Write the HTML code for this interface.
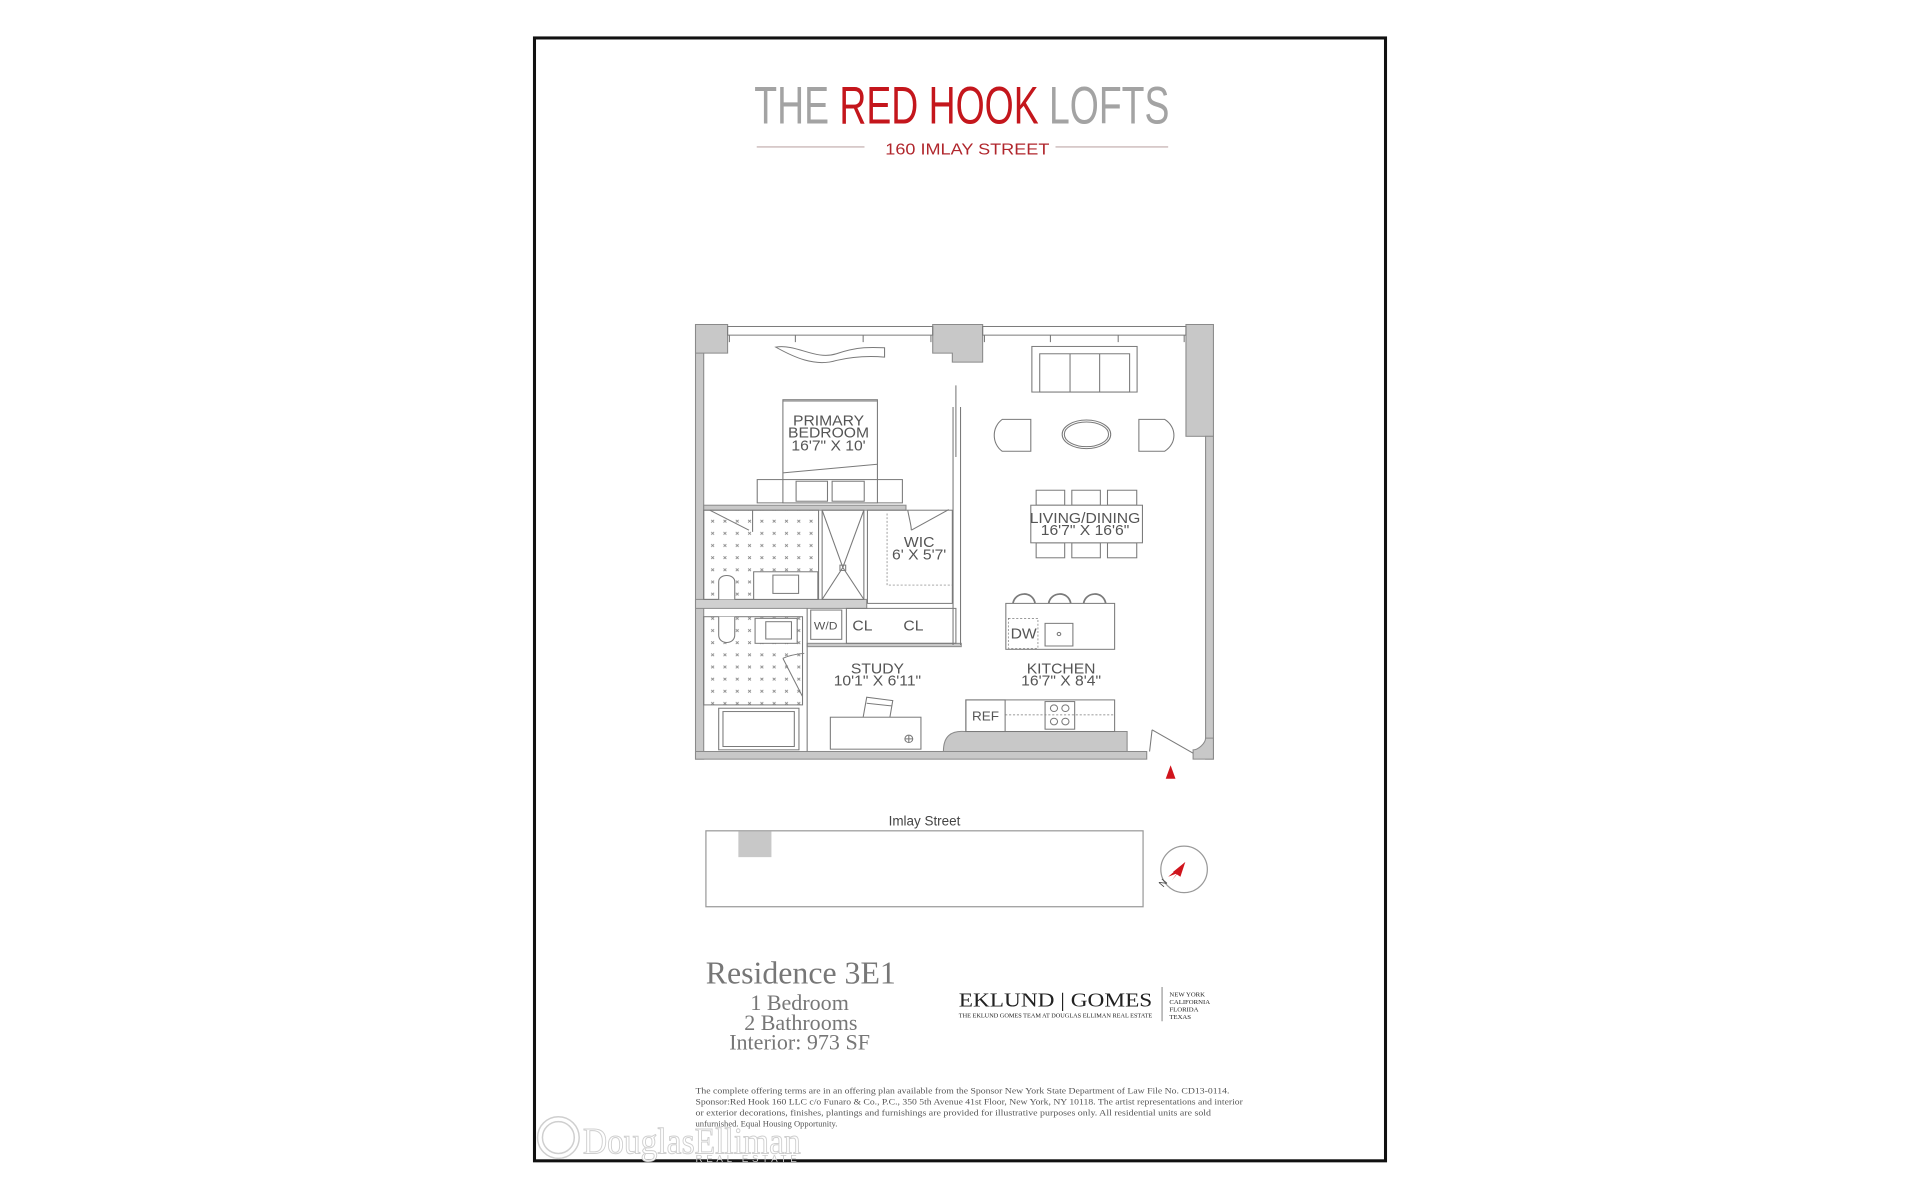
<!DOCTYPE html>
<html><head><meta charset="utf-8"><style>
html,body{margin:0;padding:0;background:#fff;}
svg{display:block;}
</style></head><body>
<svg width="1920" height="1200" viewBox="0 0 1568 980" xmlns="http://www.w3.org/2000/svg">
<defs>
<pattern id="tile" x="75" y="615" width="34.5" height="36.5" patternUnits="userSpaceOnUse">
<path d="M14 14 L22 22 M22 14 L14 22" stroke="#888" stroke-width="2.5"/>
</pattern>
</defs>
<rect x="0" y="0" width="1568" height="980" fill="#fff"/>
<rect x="436.5" y="31" width="695" height="917" fill="none" stroke="#111" stroke-width="2.5"/>

<!-- Title -->
<text x="616" y="101" font-family="Liberation Sans Narrow, Liberation Sans, sans-serif" font-size="43" textLength="339" lengthAdjust="spacingAndGlyphs"><tspan fill="#a3a3a3">THE </tspan><tspan fill="#c4161c">RED HOOK</tspan><tspan fill="#a3a3a3"> LOFTS</tspan></text>
<line x1="618" y1="120" x2="706" y2="120" stroke="#bfa9a9" stroke-width="1"/>
<line x1="862" y1="120" x2="954" y2="120" stroke="#bfa9a9" stroke-width="1"/>
<text x="723" y="126" font-family="Liberation Sans Narrow, Liberation Sans, sans-serif" font-size="13" fill="#b0262c" textLength="134" lengthAdjust="spacingAndGlyphs">160 IMLAY STREET</text>

<!-- Floor plan in zoom coords -->
<g transform="translate(568,265) scale(0.2913,0.2718) translate(-45,-42)" stroke-linejoin="miter">
<g fill="#c8c8c8" stroke="#8a8a8a" stroke-width="3">
<rect x="45" y="42" width="23" height="1306"/>
<rect x="45" y="42" width="90" height="86"/>
<polygon points="710,42 850,42 850,155 765,155 765,128 710,128"/>
<rect x="1420" y="42" width="77" height="336"/>
<rect x="1475" y="378" width="22" height="970"/>
<rect x="45" y="1325" width="1265" height="23"/>
<path d="M740 1325 C740 1280 760 1262 800 1265 L1255 1265 L1255 1325 Z"/>
<path d="M1440 1348 L1440 1320 C1455 1320 1475 1300 1475 1285 L1497 1285 L1497 1348 Z"/>
<rect x="68" y="585" width="567" height="15"/>
<rect x="358" y="1000" width="432" height="10"/>
<rect x="45" y="868" width="480" height="27" fill="#d0d0d0"/>
</g>
<g fill="none" stroke="#7a7a7a" stroke-width="3">
<rect x="135" y="48" width="575" height="26"/>
<rect x="850" y="48" width="570" height="26"/>
<path d="M325 74 V95 M515 74 V95 M1040 74 V95 M1230 74 V95 M140 74 V95 M705 74 V95 M855 74 V95 M1415 74 V95"/>
<path d="M767 290 V1005 M788 290 V1005 M775 225 V440"/>
<path d="M270 110 C330 100 380 150 440 130 C500 108 540 110 575 112 L575 140 C520 135 480 140 440 150 C380 170 320 140 270 110 Z"/>
<rect x="290" y="268" width="265" height="310" fill="#fff"/>
<path d="M290 272 H555 M290 488 L555 462"/>
<rect x="218" y="508" width="407" height="70" fill="#fff"/>
<rect x="327" y="513" width="88" height="60"/>
<rect x="428" y="513" width="90" height="60"/>
<path d="M290 508 V578 M555 508 V578"/>
<rect x="68" y="600" width="322" height="268" fill="url(#tile)"/>
<rect x="208" y="785" width="180" height="83" fill="#fff"/>
<rect x="262" y="795" width="72" height="55"/>
<path d="M110 868 V815 C110 790 155 790 155 815 V868" fill="#fff"/>
<path d="M85 600 L195 660 M205 600 V665"/>
<rect x="400" y="600" width="117" height="268"/>
<path d="M400 600 L458 772 L517 600 M400 868 L458 772 L517 868"/>
<rect x="450" y="765" width="16" height="16"/>
<rect x="527" y="600" width="238" height="280"/>
<path d="M582 610 V825 H765" stroke-dasharray="6 5" stroke-width="2"/>
<path d="M650 660 L755 598 M640 600 C645 630 650 645 650 660"/>
<rect x="368" y="900" width="87" height="88"/>
<rect x="468" y="895" width="307" height="105"/>
<path d="M358 895 V1325"/>
<rect x="68" y="920" width="277" height="265" fill="url(#tile)"/>
<rect x="212" y="925" width="118" height="75" fill="#fff"/>
<rect x="242" y="935" width="72" height="52"/>
<path d="M110 920 V975 C110 1005 155 1005 155 975 V920" fill="#fff"/>
<path d="M290 1045 L345 1160 M290 1045 C310 1035 330 1032 350 1030"/>
<rect x="110" y="1195" width="225" height="125"/>
<rect x="122" y="1205" width="200" height="105"/>
<rect x="423" y="1222" width="254" height="96"/>
<path d="M515 1222 L525 1162 L598 1172 L590 1222 M525 1180 L595 1188"/>
<circle cx="643" cy="1287" r="11"/>
<path d="M632 1287 H654 M643 1276 V1298"/>
<rect x="988" y="108" width="295" height="137"/>
<rect x="1010" y="130" width="252" height="115"/>
<path d="M1095 130 V245 M1178 130 V245"/>
<path d="M905 327 H985 V423 H905 C875 400 875 350 905 327 Z"/>
<ellipse cx="1141" cy="372" rx="68" ry="43"/>
<ellipse cx="1141" cy="372" rx="62" ry="37"/>
<path d="M1288 327 H1360 C1395 350 1395 400 1360 423 H1288 Z"/>
<rect x="1000" y="540" width="80" height="45"/>
<rect x="1100" y="540" width="80" height="45"/>
<rect x="1200" y="540" width="82" height="45"/>
<rect x="1000" y="698" width="80" height="45"/>
<rect x="1100" y="698" width="80" height="45"/>
<rect x="1200" y="698" width="82" height="45"/>
<rect x="985" y="585" width="313" height="113" fill="#fff"/>
<path d="M935 880 C940 845 990 840 997 880 M1035 880 C1040 845 1090 840 1097 880 M1133 880 C1138 845 1188 840 1195 880" stroke-width="5"/>
<rect x="915" y="880" width="305" height="138"/>
<rect x="922" y="925" width="83" height="90" stroke-dasharray="6 5" stroke-width="2"/>
<rect x="1025" y="940" width="78" height="68"/>
<circle cx="1064" cy="972" r="5"/>
<rect x="803" y="1170" width="417" height="95"/>
<rect x="803" y="1170" width="110" height="95"/>
<path d="M913 1215 H1220" stroke-dasharray="6 5" stroke-width="2"/>
<rect x="1025" y="1175" width="83" height="83"/>
<circle cx="1050" cy="1195" r="10"/><circle cx="1082" cy="1195" r="10"/>
<circle cx="1050" cy="1235" r="10"/><circle cx="1082" cy="1235" r="10"/>
<path d="M1325 1260 L1440 1330 M1325 1260 L1318 1325"/>
</g>
<g font-family="Liberation Sans, sans-serif" fill="#555" text-anchor="middle" font-size="44">
<text x="418" y="345">PRIMARY</text>
<text x="418" y="382">BEDROOM</text>
<text x="418" y="420">16'7" X 10'</text>
<text x="1137" y="638">LIVING/DINING</text>
<text x="1137" y="674">16'7" X 16'6"</text>
<text x="672" y="710">WIC</text>
<text x="672" y="748">6' X 5'7'</text>
<text x="410" y="958" font-size="34">W/D</text>
<text x="513" y="962">CL</text>
<text x="656" y="962">CL</text>
<text x="965" y="985">DW</text>
<text x="555" y="1090">STUDY</text>
<text x="555" y="1126">10'1" X 6'11"</text>
<text x="1070" y="1090">KITCHEN</text>
<text x="1070" y="1126">16'7" X 8'4"</text>
<text x="858" y="1232" font-size="38">REF</text>
</g>
</g>
<polygon points="956,625 952,636 960,636" fill="#d0141c"/>

<text x="755" y="674" font-family="Liberation Sans, sans-serif" font-size="11" fill="#444" text-anchor="middle">Imlay Street</text>
<rect x="576.5" y="678.5" width="357" height="62" fill="none" stroke="#999" stroke-width="1"/>
<rect x="603" y="679" width="27" height="21" fill="#c8c8c8"/>
<circle cx="967" cy="710" r="19" fill="none" stroke="#999" stroke-width="1"/>
<polygon points="968,704 957,719 962,713 954,716" fill="#d0141c"/>
<polygon points="968,704 964,716 958,712" fill="#d0141c"/>
<text x="950" y="725" font-family="Liberation Sans, sans-serif" font-size="8" fill="#444" transform="rotate(-50 950 725)">N</text>

<g font-family="Liberation Serif, serif" fill="#777" text-anchor="middle">
<text x="654" y="803" font-size="26">Residence 3E1</text>
<text x="653" y="825" font-size="18">1 Bedroom</text>
<text x="654" y="841" font-size="18">2 Bathrooms</text>
<text x="653" y="857" font-size="18">Interior: 973 SF</text>
</g>
<g font-family="Liberation Serif, serif" fill="#222">
<text x="783" y="822" font-size="16" textLength="158" lengthAdjust="spacingAndGlyphs">EKLUND | GOMES</text>
<text x="783" y="831" font-size="5.5" textLength="158" lengthAdjust="spacingAndGlyphs">THE EKLUND GOMES TEAM AT DOUGLAS ELLIMAN REAL ESTATE</text>
<line x1="949" y1="806" x2="949" y2="834" stroke="#555" stroke-width="0.6"/>
<text x="955" y="814" font-size="5.5">NEW YORK</text>
<text x="955" y="820" font-size="5.5">CALIFORNIA</text>
<text x="955" y="826" font-size="5.5">FLORIDA</text>
<text x="955" y="832" font-size="5.5">TEXAS</text>
</g>
<g font-family="Liberation Serif, serif" fill="#555" font-size="7">
<text x="568" y="893" textLength="436" lengthAdjust="spacingAndGlyphs">The complete offering terms are in an offering plan available from the Sponsor New York State Department of Law File No. CD13-0114.</text>
<text x="568" y="902" textLength="447" lengthAdjust="spacingAndGlyphs">Sponsor:Red Hook 160 LLC c/o Funaro &amp; Co., P.C., 350 5th Avenue 41st Floor, New York, NY 10118. The artist representations and interior</text>
<text x="568" y="911" textLength="421" lengthAdjust="spacingAndGlyphs">or exterior decorations, finishes, plantings and furnishings are provided for illustrative purposes only. All residential units are sold</text>
<text x="568" y="920">unfurnished. Equal Housing Opportunity.</text>
</g>
<g fill="none" stroke="#cfcfcf" stroke-width="1.2">
<circle cx="456" cy="929" r="17"/>
<circle cx="456" cy="929" r="13"/>
</g>
<text x="476" y="942" font-family="Liberation Serif, serif" font-size="30" fill="#fff" stroke="#cfcfcf" stroke-width="0.8" textLength="178" lengthAdjust="spacingAndGlyphs">DouglasElliman</text>
<text x="568" y="949" font-family="Liberation Sans, sans-serif" font-size="8" fill="#ccc" letter-spacing="3">REAL ESTATE</text>
</svg>
</body></html>
